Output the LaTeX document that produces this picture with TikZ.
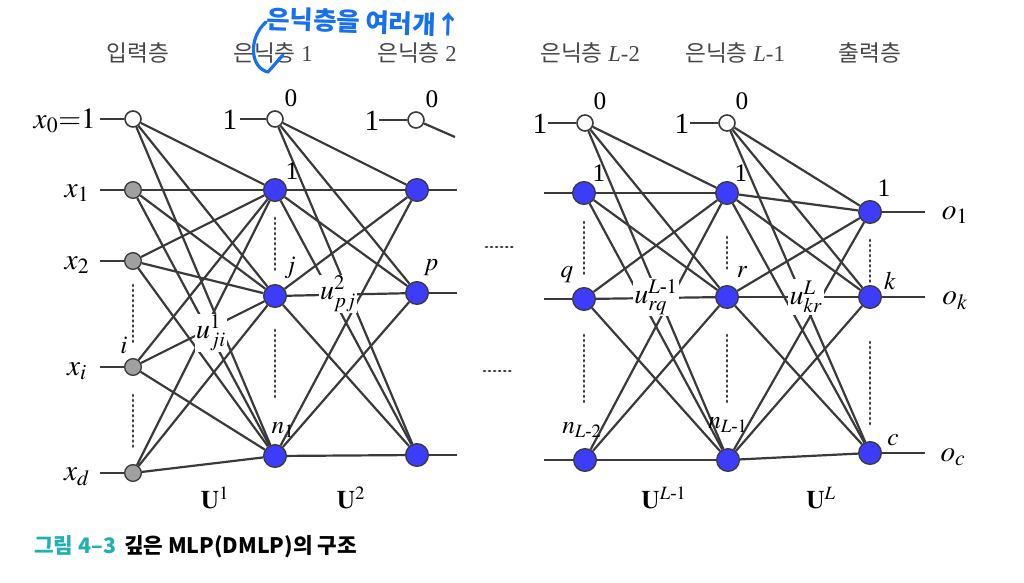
\documentclass[tikz,border=0pt]{standalone}
\usepackage{amsmath}
\usepackage{mathptmx}
\usepackage[no-math]{fontspec}
\setmainfont{Liberation Serif}
\newfontfamily\kr{Noto Sans CJK KR}
\usetikzlibrary{backgrounds}
\definecolor{edgecol}{RGB}{58,58,58}
\definecolor{nodeblue}{RGB}{60,60,250}
\definecolor{inpgray}{RGB}{160,160,160}
\definecolor{headgray}{RGB}{70,70,70}
\definecolor{teal2}{RGB}{34,176,176}
\definecolor{pen}{RGB}{22,112,240}
\tikzset{
  hid/.style={circle, draw=edgecol, line width=1pt, fill=nodeblue, minimum size=17pt, inner sep=0pt},
  inp/.style={circle, draw=edgecol, line width=1pt, fill=inpgray, minimum size=12.5pt, inner sep=0pt},
  bias/.style={circle, draw=edgecol, line width=1.2pt, fill=white, minimum size=12pt, inner sep=0pt},
  conn/.style={line width=1.65pt, draw=edgecol},
  dotv/.style={line width=2.2pt, draw=edgecol, dash pattern=on 0.7pt off 3.1pt, line cap=round},
  nlab/.style={font=\fontsize{19}{20}\selectfont, inner sep=0pt},
  xlab/.style={font=\fontsize{22}{23}\selectfont, inner sep=0pt},
  wlab/.style={font=\fontsize{21}{22}\selectfont, fill=white, inner sep=1pt},
  ulab/.style={font=\fontsize{19}{20}\selectfont, inner sep=0pt},
  head/.style={font=\fontsize{17}{18}\selectfont, text=headgray, inner sep=0pt},
}
\begin{document}
\begin{tikzpicture}[x=0.75pt,y=-0.75pt]
\useasboundingbox (0,0) rectangle (1024,582);

% headings
\node[head] (h0) at (138,53) {\kr 입력층};
\node[head] (h1) at (273,53) {{\kr 은닉층} 1};
\node[head] (h2) at (417,53) {{\kr 은닉층} 2};
\node[head] (h3) at (590,53) {{\kr 은닉층} \textit{L}-2};
\node[head] (h4) at (735,53) {{\kr 은닉층} \textit{L}-1};
\node[head] (h5) at (870,53) {\kr 출력층};

% input layer
\node[bias] (i0) at (133,119) {};
\node[inp] (i1) at (133,190) {};
\node[inp] (i2) at (133,261) {};
\node[inp] (ii) at (133,367) {};
\node[inp] (id) at (133,473) {};
% hidden 1
\node[bias] (a0) at (275,119) {};
\node[hid] (a1) at (275,190) {};
\node[hid] (aj) at (275,296) {};
\node[hid] (an) at (275,456) {};
% hidden 2
\node[bias] (b0) at (416,120) {};
\node[hid] (b1) at (417,190) {};
\node[hid] (bp) at (417,293) {};
\node[hid] (bn) at (417,455) {};
% hidden L-2
\node[bias] (c0) at (585,123) {};
\node[hid] (c1) at (584,193) {};
\node[hid] (cq) at (584,299) {};
\node[hid] (cn) at (585,460) {};
% hidden L-1
\node[bias] (d0) at (727,123) {};
\node[hid] (d1) at (727,193) {};
\node[hid] (dr) at (727,297) {};
\node[hid] (dn) at (728,460) {};
% output
\node[hid] (e1) at (870,212) {};
\node[hid] (ek) at (870,297) {};
\node[hid] (ec) at (870,453) {};

% stub coordinates
\coordinate (si0) at (100,119);
\coordinate (si1) at (100,190);
\coordinate (si2) at (100,261);
\coordinate (sii) at (100,367);
\coordinate (sid) at (100,473);
\coordinate (sa0) at (240,119);
\coordinate (sb0) at (379,120);
\coordinate (sb0r) at (455,137);
\coordinate (sb1) at (457,190);
\coordinate (sbp) at (457,293);
\coordinate (sbn) at (457,455);
\coordinate (sc0) at (548,123);
\coordinate (sc1) at (544,193);
\coordinate (scq) at (544,299);
\coordinate (scn) at (544,460);
\coordinate (sd0) at (690,123);
\coordinate (se1) at (925,212);
\coordinate (sek) at (925,297);
\coordinate (sec) at (925,453);

% connectors
\begin{scope}[on background layer]
  \foreach \s in {i0,i1,i2,ii,id}
    \foreach \t in {a1,aj,an} \draw[conn] (\s) -- (\t);
  \foreach \s in {a0,a1,aj,an}
    \foreach \t in {b1,bp,bn} \draw[conn] (\s) -- (\t);
  \foreach \s in {c0,c1,cq,cn}
    \foreach \t in {d1,dr,dn} \draw[conn] (\s) -- (\t);
  \foreach \s in {d0,d1,dr,dn}
    \foreach \t in {e1,ek,ec} \draw[conn] (\s) -- (\t);
  \foreach \n in {i0,i1,i2,ii,id,a0,b0,c0,d0}
    \draw[conn] (s\n) -- (\n);
  \draw[conn] (b0) -- (sb0r);
  \foreach \n in {b1,bp,bn,e1,ek,ec}
    \draw[conn] (\n) -- (s\n);
  \foreach \n in {c1,cq,cn}
    \draw[conn] (s\n) -- (\n);
\end{scope}

% dotted vertical ellipses
\coordinate (v1a) at (133,285); \coordinate (v1b) at (133,342);
\coordinate (v2a) at (133,395); \coordinate (v2b) at (133,450);
\coordinate (v3a) at (275,218); \coordinate (v3b) at (275,272);
\coordinate (v4a) at (275,330); \coordinate (v4b) at (275,400);
\coordinate (v5a) at (584,222); \coordinate (v5b) at (584,277);
\coordinate (v6a) at (584,335); \coordinate (v6b) at (584,403);
\coordinate (v7a) at (727,237); \coordinate (v7b) at (727,272);
\coordinate (v8a) at (727,335); \coordinate (v8b) at (727,403);
\coordinate (v9a) at (870,240); \coordinate (v9b) at (870,282);
\coordinate (v10a) at (870,342); \coordinate (v10b) at (870,425);
\foreach \k in {1,...,10} \draw[dotv] (v\k a) -- (v\k b);

% horizontal ellipses
\coordinate (hd1a) at (486,247); \coordinate (hd1b) at (514,247);
\coordinate (hd2a) at (484,371); \coordinate (hd2b) at (512,371);
\draw[dotv] (hd1a) -- (hd1b);
\draw[dotv] (hd2a) -- (hd2b);

% weight labels
\node[wlab] (w1) at (211,333) {$u^{1}_{ji}$};
\node[wlab] (w2) at (338,294) {$u^{2}_{pj}$};
\node[wlab] (w3) at (656,297) {$u^{L\text{-}1}_{rq}$};
\node[wlab] (w4) at (806,297) {$u^{L}_{kr}$};

% input labels
\node[xlab, anchor=east] (lx0) at (96,121) {$x_0{=}1$};
\node[xlab] (lx1) at (77,193) {$x_1$};
\node[xlab] (lx2) at (77,265) {$x_2$};
\node[xlab] (lxi) at (77,371) {$x_i$};
\node[xlab] (lxd) at (77,477) {$x_d$};

% bias "1" labels
\node[xlab] (one1) at (230,120) {1};
\node[xlab] (one2) at (372,121) {1};
\node[xlab] (one3) at (540,124) {1};
\node[xlab] (one4) at (682,124) {1};

% zero labels
\node[nlab] (z1) at (291,98) {0};
\node[nlab] (z2) at (432,99) {0};
\node[nlab] (z3) at (600,101) {0};
\node[nlab] (z4) at (742,101) {0};

% node labels
\node[nlab] (la1) at (292,171) {1};
\node[nlab] (laj) at (290,268) {$j$};
\node[nlab] (lan) at (283,430) {$n_1$};
\node[nlab] (lii) at (124,345) {$i$};
\node[nlab] (lbp) at (431,268) {$p$};
\node[nlab] (lc1) at (599,173) {1};
\node[nlab] (lcq) at (567,275) {$q$};
\node[nlab] (lcn) at (582,430) {$n_{L\text{-}2}$};
\node[nlab] (ld1) at (741,173) {1};
\node[nlab] (ldr) at (742,272) {$r$};
\node[nlab] (ldn) at (728,425) {$n_{L\text{-}1}$};
\node[nlab] (le1) at (884,188) {1};
\node[nlab] (lek) at (890,281) {$k$};
\node[nlab] (lec) at (893,440) {$c$};

% output labels
\node[xlab] (lo1) at (955,215) {$o_1$};
\node[xlab] (lok) at (955,301) {$o_k$};
\node[xlab] (loc) at (953,457) {$o_c$};

% matrix labels
\node[ulab] (U1) at (215,498) {$\mathbf{U}^{1}$};
\node[ulab] (U2) at (351,498) {$\mathbf{U}^{2}$};
\node[ulab] (U3) at (664,498) {$\mathbf{U}^{L\text{-}1}$};
\node[ulab] (U4) at (821,498) {$\mathbf{U}^{L}$};

% caption
\node[anchor=west, inner sep=0pt, font=\kr\bfseries\fontsize{16}{17}\selectfont] (cap) at (34,547)
  {\textcolor{teal2}{그림 4–3}\hspace{6pt}깊은 MLP(DMLP)의 구조};

% handwritten note
\node[inner sep=0pt, text=pen, rotate=-2, font=\kr\bfseries\fontsize{19}{20}\selectfont] (note) at (364,22) {은닉층을 여러개↑};
\coordinate (pa) at (266,22);
\coordinate (pb) at (268,72);
\draw[pen, line width=2.4pt, line cap=round, line join=round] (pa) .. controls (248,38) and (250,68) .. (pb) -- (283,55);
\end{tikzpicture}
\end{document}
